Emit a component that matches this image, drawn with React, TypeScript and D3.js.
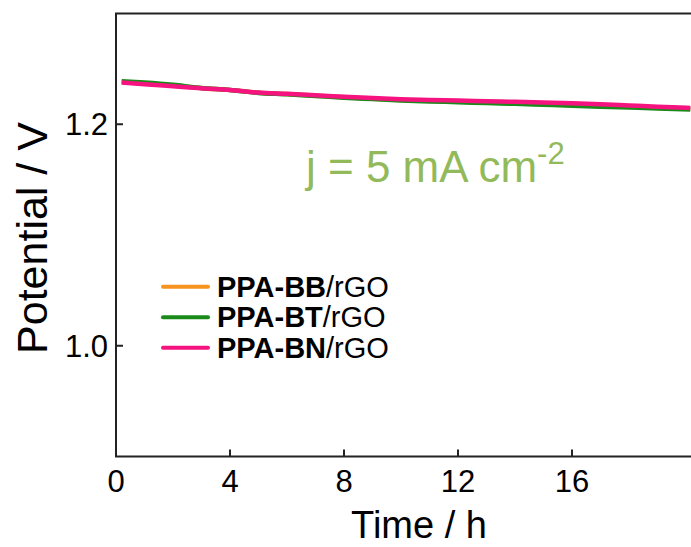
import React from "react";
import * as d3 from "d3";

const timeH = [0.2, 1, 2, 3, 4, 5, 6, 7, 8, 9, 10, 11, 12, 13, 14, 15, 16, 17, 18, 19, 20.15];
const bbValues = [1.2382, 1.2368, 1.2349, 1.2326, 1.2309, 1.2284, 1.2273, 1.2258, 1.2243, 1.2231, 1.2220, 1.2212, 1.2206, 1.2199, 1.2193, 1.2186, 1.2179, 1.2170, 1.2161, 1.2151, 1.2140];
const btValues = [1.2388, 1.2376, 1.2356, 1.2327, 1.2309, 1.2283, 1.2271, 1.2255, 1.2239, 1.2227, 1.2215, 1.2206, 1.2199, 1.2191, 1.2184, 1.2176, 1.2168, 1.2159, 1.2151, 1.2143, 1.2133];
const bnValues = [1.2376, 1.2361, 1.2343, 1.2325, 1.2310, 1.2286, 1.2275, 1.2262, 1.2248, 1.2236, 1.2226, 1.2218, 1.2214, 1.2208, 1.2203, 1.2197, 1.2190, 1.2181, 1.2170, 1.2159, 1.2147];

const seriesNames = ["PPA-BB", "PPA-BT", "PPA-BN"];
const seriesColors = ["#F7931E", "#1A8A1A", "#F5147F"];
const seriesValues = [bbValues, btValues, bnValues];

const xTicks = [0, 4, 8, 12, 16];
const yTicks = [1.0, 1.2];

export default function App() {
  const W = 691;
  const H = 547;
  const xs = d3.scaleLinear().domain([0, 16]).range([116, 572]);
  const ys = d3.scaleLinear().domain([0.9, 1.3]).range([456.5, 13.5]);
  const line = d3
    .line<[number, number]>()
    .x((d) => xs(d[0]))
    .y((d) => ys(d[1]))
    .curve(d3.curveMonotoneX);

  const font = "'Liberation Sans', Arial, sans-serif";
  const left = xs(0);
  const top = ys(1.3);
  const bottom = ys(0.9);

  return (
    <svg
      width={W}
      height={H}
      style={{ position: "absolute", left: 0, top: 0, background: "#fff" }}
      fontFamily={font}
    >
      <defs>
        <clipPath id="plot">
          <rect x={left} y={top} width={W - left} height={bottom - top} />
        </clipPath>
      </defs>
      <g clipPath="url(#plot)">
        {seriesValues.map((vals, i) => (
          <path
            key={seriesNames[i]}
            d={line(timeH.map((t, j) => [t, vals[j]] as [number, number])) || ""}
            fill="none"
            stroke={seriesColors[i]}
            strokeWidth={4.5}
            strokeLinejoin="round"
          />
        ))}
      </g>
      {/* spines */}
      <line x1={left} x2={left} y1={top} y2={bottom} stroke="#222" strokeWidth={2} />
      <line x1={left - 1} x2={W} y1={top} y2={top} stroke="#222" strokeWidth={2} />
      <line x1={left - 1} x2={W} y1={bottom} y2={bottom} stroke="#222" strokeWidth={2} />
      {/* x ticks */}
      {xTicks.map((t) => (
        <g key={"x" + t}>
          {t !== 0 && (
            <line x1={xs(t)} x2={xs(t)} y1={bottom} y2={bottom - 7} stroke="#222" strokeWidth={2} />
          )}
          <text x={xs(t)} y={492} textAnchor="middle" fontSize={31} fill="#000">
            {t}
          </text>
        </g>
      ))}
      {/* y ticks */}
      {yTicks.map((t) => (
        <g key={"y" + t}>
          <line x1={left} x2={left + 7} y1={ys(t)} y2={ys(t)} stroke="#222" strokeWidth={2} />
          <text x={108} y={ys(t) + 11} textAnchor="end" fontSize={31} fill="#000">
            {t.toFixed(1)}
          </text>
        </g>
      ))}
      {/* axis titles */}
      <text x={419} y={538} textAnchor="middle" fontSize={38} fill="#000">
        Time / h
      </text>
      <text
        transform="translate(47,238) rotate(-90)"
        textAnchor="middle"
        fontSize={43}
        fill="#000"
      >
        Potential / V
      </text>
      {/* annotation */}
      <text x={306} y={182} fontSize={44} fill="#93BA5A">
        j = 5 mA cm
        <tspan fontSize={31} dy={-18}>-2</tspan>
      </text>
      {/* legend */}
      {seriesNames.map((name, i) => {
        const yy = 286.7 + i * 30.5;
        return (
          <g key={"lg" + name}>
            <line x1={163} x2={208} y1={yy} y2={yy} stroke={seriesColors[i]} strokeWidth={4} strokeLinecap="round" />
            <text x={217} y={yy + 10} fontSize={29} fill="#000">
              <tspan fontWeight="bold">{name}</tspan>
              <tspan>/rGO</tspan>
            </text>
          </g>
        );
      })}
    </svg>
  );
}
